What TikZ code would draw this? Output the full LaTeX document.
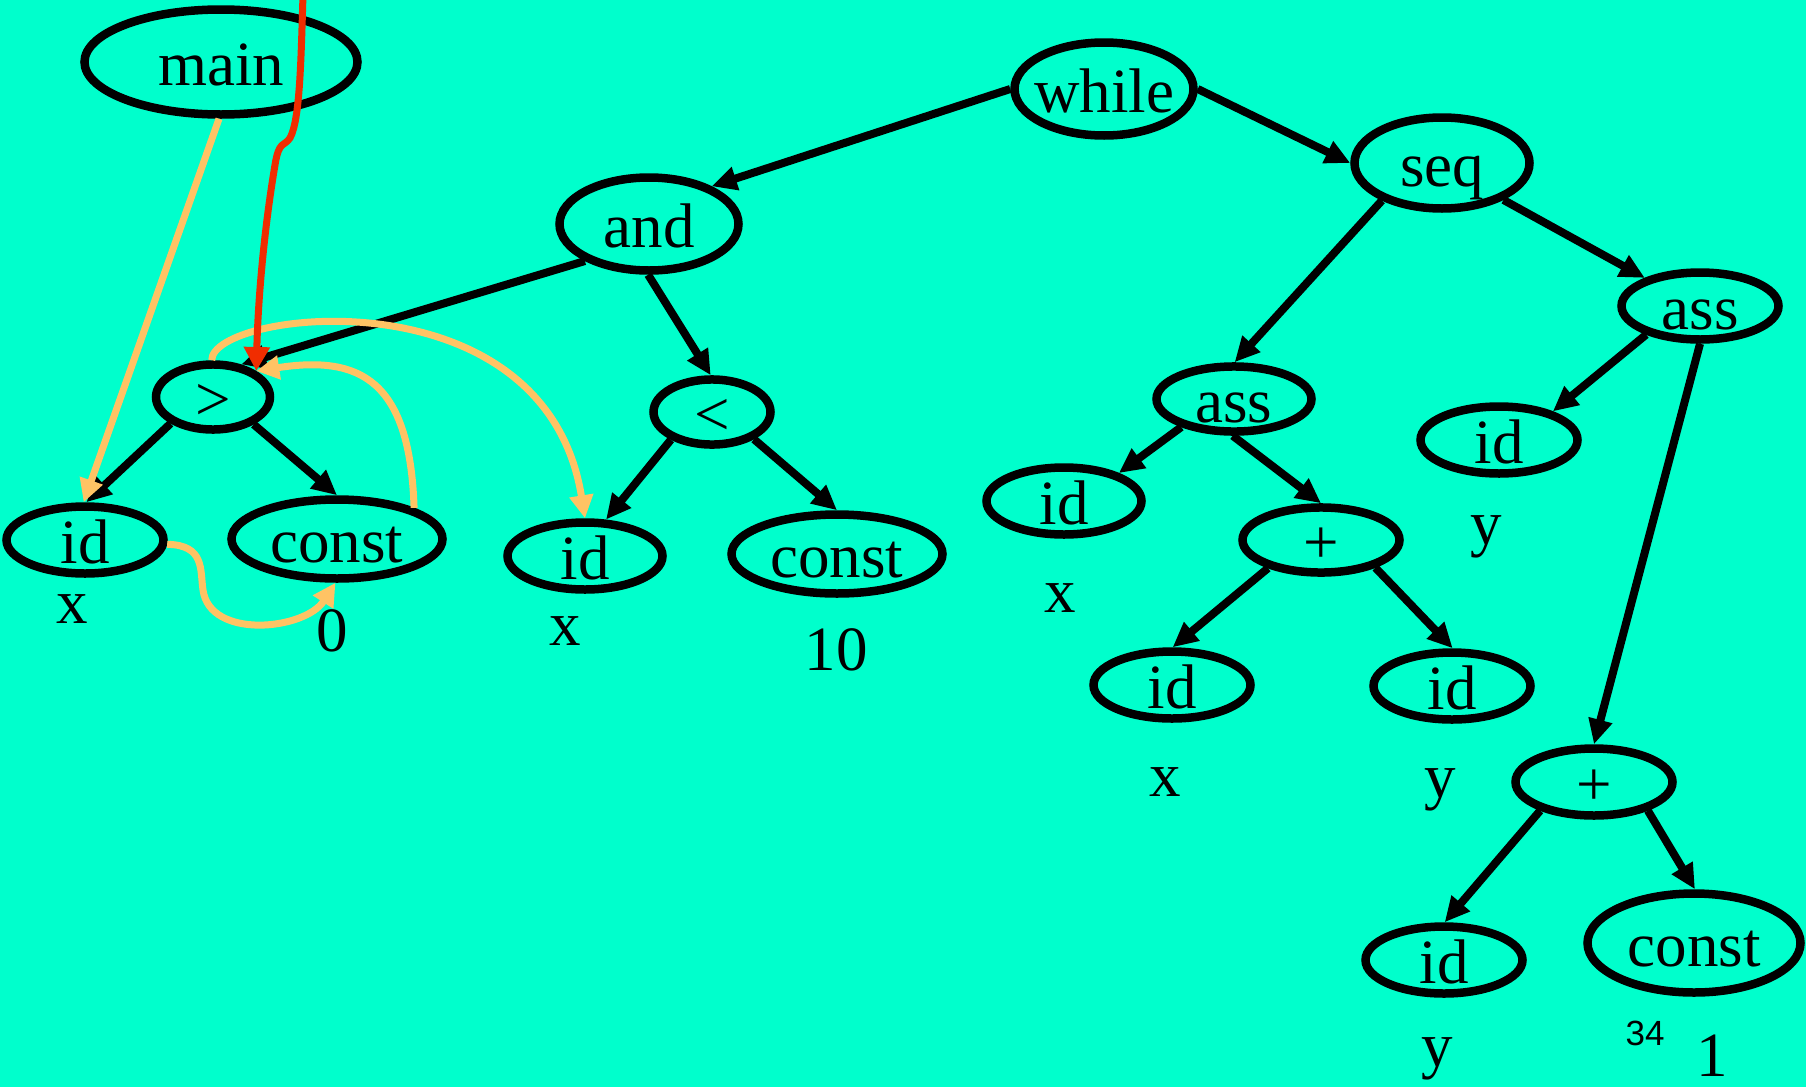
\documentclass[tikz,border=0pt]{standalone}
\usepackage{fontspec}
\setmainfont{Liberation Serif}
\newfontfamily\sansf{Liberation Sans}
\usetikzlibrary{shapes.geometric,arrows.meta}
\definecolor{bgc}{RGB}{0,255,204}
\definecolor{orng}{RGB}{255,195,100}
\definecolor{redc}{RGB}{240,45,0}
\newcommand{\mk}[1]{\makebox[0pt][c]{#1}}
\begin{document}
\begin{tikzpicture}[x=1pt,y=-1pt,
  tn/.style 2 args={ellipse, draw=black, line width=8.5pt, minimum width=#1pt, minimum height=#2pt,
    inner sep=0pt, text height=46pt, text depth=0pt, font=\fontsize{63}{63}\selectfont},
  lbl/.style={anchor=base, inner sep=0pt, font=\fontsize{63}{63}\selectfont},
  blk/.style={line width=8pt, -{Triangle[length=25pt,width=23pt]}},
  oedge/.style={draw=orng, line width=7pt, -{Triangle[length=23pt,width=23pt]}},
  redge/.style={draw=redc, line width=7pt, -{Triangle[length=24pt,width=25pt]}}
]
\useasboundingbox (0,0) rectangle (1806,1087);
\fill[bgc] (0,0) rectangle (1806,1087);

% nodes
\node[tn={273}{105}] (main) at (221,62) {\mk{main}};
\node[tn={179}{93}] (while) at (1104,89) {\mk{while}};
\node[tn={175}{91}] (seq) at (1442,163) {\mk{seq}};
\node[tn={179}{93}] (and) at (649,224) {\mk{and}};
\node[tn={114}{61}] (gt) at (213,397) {\mk{>}};
\node[tn={157}{67}] (idxa) at (85,540) {\mk{id}};
\node[tn={211}{79}] (consta) at (337,539) {\mk{const}};
\node[tn={117}{61}] (lt) at (712,412) {\mk{<}};
\node[tn={155}{67}] (idxb) at (585,556) {\mk{id}};
\node[tn={211}{79}] (constb) at (837,554) {\mk{const}};
\node[tn={155}{65}] (assa) at (1234,399) {\mk{ass}};
\node[tn={155}{67}] (idxc) at (1064,501) {\mk{id}};
\node[tn={157}{65}] (plusa) at (1321,540) {\mk{+}};
\node[tn={157}{67}] (idxd) at (1172,685) {\mk{id}};
\node[tn={157}{67}] (idya) at (1452,686) {\mk{id}};
\node[tn={157}{67}] (assb) at (1700,306) {\mk{ass}};
\node[tn={157}{67}] (idyb) at (1499,440) {\mk{id}};
\node[tn={157}{67}] (plusb) at (1594,782) {\mk{+}};
\node[tn={157}{67}] (idyc) at (1444,960) {\mk{id}};
\node[tn={213}{99}] (constc) at (1694,943) {\mk{const}};

% labels
\node[lbl] (lxa) at (72,623) {x};
\node[lbl] (l0) at (332,651) {0};
\node[lbl] (lxb) at (565,645) {x};
\node[lbl] (l10) at (836,670) {10};
\node[lbl] (lxc) at (1060,612) {x};
\node[lbl] (lxd) at (1165,796) {x};
\node[lbl] (lya) at (1440,797) {y};
\node[lbl] (lyb) at (1486,544) {y};
\node[lbl] (lyc) at (1437,1066) {y};
\node[lbl, font=\sansf\fontsize{35}{35}\selectfont] (l34) at (1645,1045) {34};
\node[lbl] (l1) at (1712,1076) {1};

% tree edges
\draw[blk] (while.180) -- (and.31);
\draw[blk] (while.0) -- (seq.180);
\draw[blk] (and.210) -- (gt.49);
\draw[blk] (and.269) -- (lt.92);
\draw[blk] (gt.212) -- (idxa.88);
\draw[blk] (gt.-34) -- (consta.90);
\draw[blk] (lt.214) -- (idxb.60);
\draw[blk] (lt.-33) -- (constb.90);
\draw[blk] (seq.212) -- (assa.89);
\draw[blk] (seq.-31) -- (assb.153);
\draw[blk] (assa.208) -- (idxc.27);
\draw[blk] (assa.268) -- (plusa.90);
\draw[blk] (plusa.208) -- (idxd.89);
\draw[blk] (plusa.-27) -- (idya.89);
\draw[blk] (assb.208) -- (idyb.28);
\draw[blk] (assb.270) -- (plusb.90);
\draw[blk] (plusb.208) -- (idyc.89);
\draw[blk] (plusb.-28) -- (constc.89);

% orange links
\draw[oedge] (main.268) -- (idxa.92);
\draw[oedge] (gt.92) .. controls (212,310) and (545,270) .. (idxb.90);
\draw[oedge] (consta.22) .. controls (410,380) and (360,355) .. (gt.31);
\draw[oedge] (idxa.-3) .. controls (205,545) and (200,570) .. (203,590)
  .. controls (210,640) and (305,630) .. (consta.268);

% red link
\coordinate (rtop) at (303,-5);
\draw[redge] (rtop) .. controls (301,60) and (300,120) .. (290,138)
  .. controls (284,147) and (279,140) .. (275,165)
  .. controls (264,230) and (258,300) .. (gt.31);
\end{tikzpicture}
\end{document}
